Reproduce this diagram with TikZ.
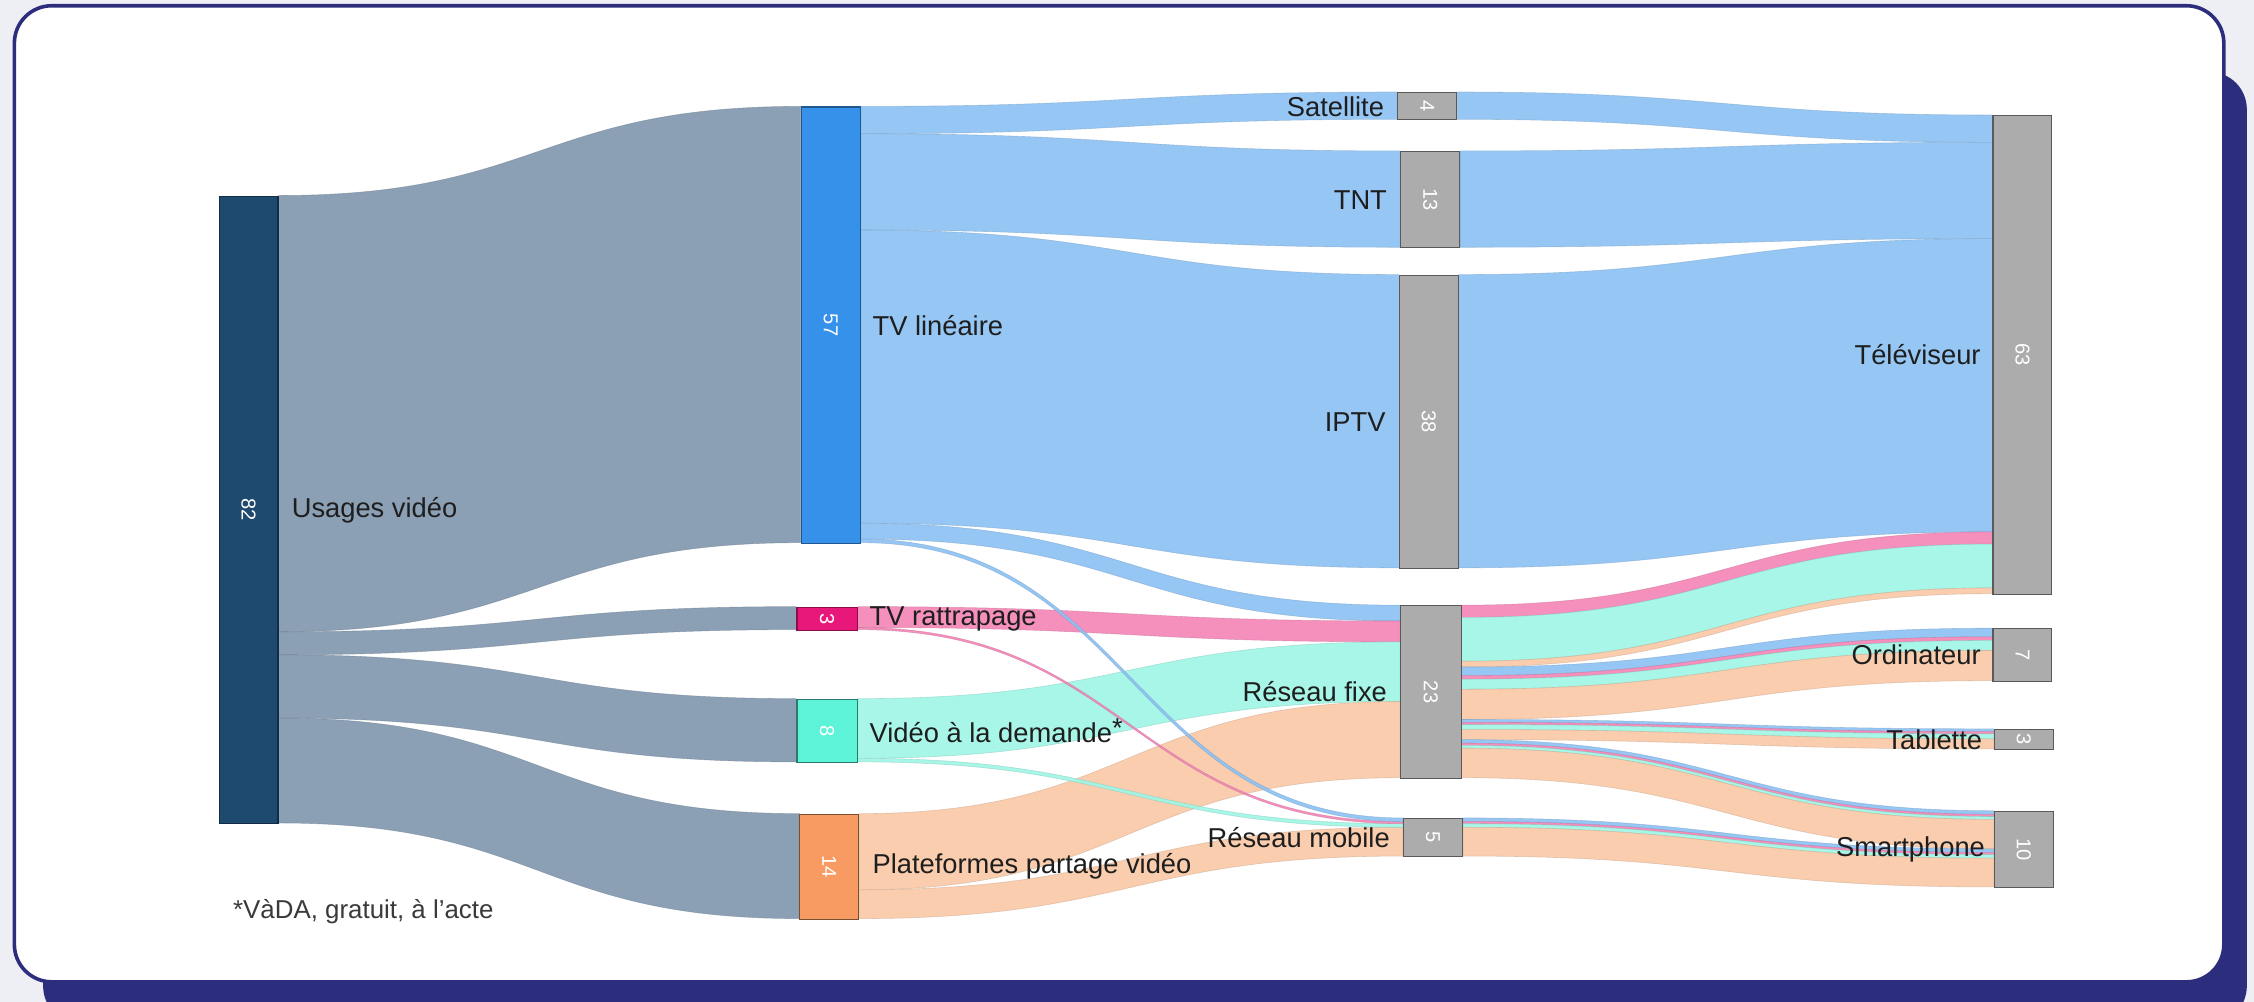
\documentclass[tikz,border=0pt]{standalone}
\usepackage{fontspec}
\setmainfont{Liberation Sans}
\usetikzlibrary{positioning}

\definecolor{cardblue}{HTML}{2C2D7C}
\definecolor{glow}{HTML}{EEEEF5}
\definecolor{usagescol}{HTML}{1F4A6F}
\definecolor{usagesflow}{HTML}{8398AF}
\definecolor{lincol}{HTML}{3591E9}
\definecolor{linflow}{HTML}{8EC2F4}
\definecolor{ratcol}{HTML}{E8187A}
\definecolor{ratflow}{HTML}{F587B8}
\definecolor{vodcol}{HTML}{5CF3D9}
\definecolor{vodflow}{HTML}{A0F6E5}
\definecolor{platcol}{HTML}{F79B62}
\definecolor{platflow}{HTML}{F9C9A7}
\definecolor{nodegray}{HTML}{ACACAC}
\definecolor{txtcol}{HTML}{1E1E1E}
\definecolor{notecol}{HTML}{3A3A3A}

\pgfdeclarelayer{back}
\pgfdeclarelayer{flows}
\pgfsetlayers{back,flows,main}

\tikzset{
    bar/.style={rectangle, inner sep=0pt, minimum width=41pt, anchor=north west, line width=0.8pt},
    graybar/.style={bar, fill=nodegray, draw=black!65},
    band/.style={fill=#1, draw=#1!80!black, line width=0.4pt, fill opacity=0.92, draw opacity=0.5},
    lbl/.style={font=\fontsize{19}{22}\selectfont, text=txtcol, inner sep=0pt},
    num/.style={font=\fontsize{14}{16}\selectfont, text=white, rotate=-90, inner sep=0pt},
}

% band: colour, source, offset at source, target, offset at target, width
\newcommand{\sband}[6]{%
    \filldraw[band=#1] ([yshift=-#3pt]#2.north east)
        .. controls +(\bendx,0) and +(-\bendx,0) .. ([yshift=-#5pt]#4.north west)
        -- ([yshift={-(#5+#6)*1pt}]#4.north west)
        .. controls +(-\bendx,0) and +(\bendx,0) .. ([yshift={-(#3+#6)*1pt}]#2.north east)
        -- cycle;}

\begin{document}
\begin{tikzpicture}[x=1pt, y=-1pt]

    \useasboundingbox (0,0) rectangle (1568,697);

    % Card and its shadow
    \begin{pgfonlayer}{back}
        \fill[glow] (0,0) rectangle (1568,697);
        \fill[cardblue, rounded corners=26pt] (30,50) rectangle (1563,712);
        \draw[cardblue, line width=2.5pt, fill=white, rounded corners=26pt] (10,4) rectangle (1547,683);
    \end{pgfonlayer}

    % Nodes
    \node[bar, fill=usagescol, draw=usagescol!60!black, minimum height=436.5pt] (usages) at (152,136) {};
    \node[bar, fill=lincol, draw=lincol!60!black, minimum height=303.5pt] (tvlin) at (557,74) {};
    \node[bar, fill=ratcol, draw=ratcol!60!black, minimum width=42pt, minimum height=16pt] (rattr) at (554,422) {};
    \node[bar, fill=vodcol, draw=vodcol!50!black, minimum width=42pt, minimum height=44pt] (vod) at (554,486) {};
    \node[bar, fill=platcol, draw=platcol!50!black, minimum height=73pt] (plat) at (556,566) {};

    \node[graybar, minimum height=19pt] (sat) at (972,64) {};
    \node[graybar, minimum height=67pt] (tnt) at (974,105) {};
    \node[graybar, minimum height=204pt] (iptv) at (973,191) {};
    \node[graybar, minimum width=42pt, minimum height=120pt] (fixe) at (974,421) {};
    \node[graybar, minimum height=26.5pt] (mobile) at (976,569) {};

    \node[graybar, minimum height=333pt] (tele) at (1386,80) {};
    \node[graybar, minimum height=36.5pt] (ordi) at (1386,437) {};
    \node[graybar, minimum height=14pt] (tabl) at (1387,507) {};
    \node[graybar, minimum height=53pt] (smart) at (1387,564) {};

    % Flows
    \begin{pgfonlayer}{flows}
    \def\bendx{182}
    \sband{usagesflow}{usages}{0}{tvlin}{0}{303.5}
    \sband{usagesflow}{usages}{303.5}{rattr}{0}{16}
    \sband{usagesflow}{usages}{319.5}{vod}{0}{44}
    \sband{usagesflow}{usages}{363.5}{plat}{0}{73}

    \def\bendx{188}
    \sband{linflow}{tvlin}{0}{sat}{0}{19}
    \sband{linflow}{tvlin}{19}{tnt}{0}{67}
    \sband{linflow}{tvlin}{86}{iptv}{0}{204}
    \sband{linflow}{tvlin}{290}{fixe}{0}{11}
    \sband{ratflow}{rattr}{0}{fixe}{11}{14.5}
    \sband{vodflow}{vod}{0}{fixe}{25.5}{41.5}
    \sband{platflow}{plat}{0}{fixe}{67}{53}
    \sband{platflow}{plat}{53}{mobile}{6.5}{20}
    \sband{vodflow}{vod}{41.5}{mobile}{4}{2.5}
    \sband{ratflow}{rattr}{14.5}{mobile}{2.5}{1.5}
    \sband{linflow}{tvlin}{301}{mobile}{0}{2.5}

    \def\bendx{185}
    \sband{linflow}{sat}{0}{tele}{0}{19}
    \sband{linflow}{tnt}{0}{tele}{19}{67}
    \sband{linflow}{iptv}{0}{tele}{86}{204}
    \sband{ratflow}{fixe}{0}{tele}{290}{8.5}
    \sband{vodflow}{fixe}{8.5}{tele}{298.5}{30.5}
    \sband{platflow}{fixe}{39}{tele}{329}{4}
    \sband{linflow}{fixe}{43}{ordi}{0}{6}
    \sband{ratflow}{fixe}{49}{ordi}{6}{2.5}
    \sband{vodflow}{fixe}{51.5}{ordi}{8.5}{7}
    \sband{platflow}{fixe}{58.5}{ordi}{15.5}{21}
    \sband{linflow}{fixe}{79.5}{tabl}{0}{2}
    \sband{ratflow}{fixe}{81.5}{tabl}{2}{1.5}
    \sband{vodflow}{fixe}{83}{tabl}{3.5}{3.5}
    \sband{platflow}{fixe}{86.5}{tabl}{7}{7}
    \sband{linflow}{fixe}{93.5}{smart}{0}{2.5}
    \sband{ratflow}{fixe}{96}{smart}{2.5}{1.5}
    \sband{vodflow}{fixe}{97.5}{smart}{4}{2}
    \sband{platflow}{fixe}{99.5}{smart}{6}{20.5}
    \sband{linflow}{mobile}{0}{smart}{26.5}{2.5}
    \sband{ratflow}{mobile}{2.5}{smart}{29}{1.5}
    \sband{vodflow}{mobile}{4}{smart}{30.5}{2.5}
    \sband{platflow}{mobile}{6.5}{smart}{33}{20}
    \end{pgfonlayer}

    % Values
    \node[num] (usagesn) at (usages.center) {82};
    \node[num] (tvlinn) at (tvlin.center) {57};
    \node[num] (rattrn) at (rattr.center) {3};
    \node[num] (vodn) at (vod.center) {8};
    \node[num] (platn) at (plat.center) {14};
    \node[num] (satn) at (sat.center) {4};
    \node[num] (tntn) at (tnt.center) {13};
    \node[num] (iptvn) at (iptv.center) {38};
    \node[num] (fixen) at (fixe.center) {23};
    \node[num] (mobilen) at (mobile.center) {5};
    \node[num] (telen) at (tele.center) {63};
    \node[num] (ordin) at (ordi.center) {7};
    \node[num] (tabln) at (tabl.center) {3};
    \node[num] (smartn) at (smart.center) {10};

    % Labels
    \node[lbl, right=9pt of usages] (usagest) {Usages vidéo};
    \node[lbl, right=8pt of tvlin] (tvlint) {TV linéaire};
    \node[lbl, right=8pt of rattr] (rattrt) {TV rattrapage};
    \node[lbl, right=8pt of vod] (vodt) {Vidéo à la demande\raisebox{0.35ex}{*}};
    \node[lbl, right=9pt of plat] (platt) {Plateformes partage vidéo};
    \node[lbl, left=9pt of sat] (satt) {Satellite};
    \node[lbl, left=9pt of tnt] (tntt) {TNT};
    \node[lbl, left=9pt of iptv] (iptvt) {IPTV};
    \node[lbl, left=9pt of fixe] (fixet) {Réseau fixe};
    \node[lbl, left=9pt of mobile] (mobilet) {Réseau mobile};
    \node[lbl, left=8pt of tele] (telet) {Téléviseur};
    \node[lbl, left=8pt of ordi] (orditxt) {Ordinateur};
    \node[lbl, left=8pt of tabl] (tablt) {Tablette};
    \node[lbl, left=6pt of smart] (smartt) {Smartphone};

    % Footnote
    \node[lbl, font=\fontsize{18}{21}\selectfont, text=notecol, anchor=west] (vada) at (162,634) {*VàDA, gratuit, à l’acte};

\end{tikzpicture}
\end{document}
